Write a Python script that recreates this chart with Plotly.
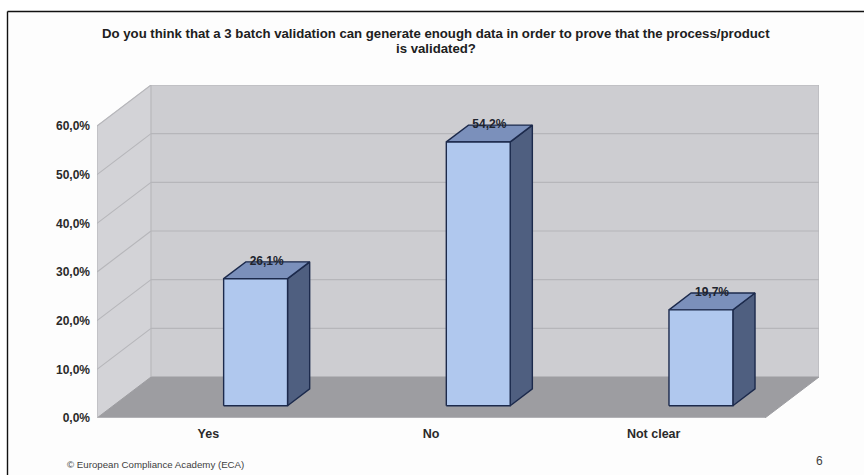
import plotly.graph_objects as go

# Survey results
title_lines = [
    "Do you think that a 3 batch validation can generate enough data in order to prove that the process/product",
    "is validated?",
]
categories = ["Yes", "No", "Not clear"]
shares = [26.1, 54.2, 19.7]
grid_values = [0, 10, 20, 30, 40, 50, 60]
tick_labels = ["0,0%", "10,0%", "20,0%", "30,0%", "40,0%", "50,0%", "60,0%"]
footer_text = "© European Compliance Academy (ECA)"
page_number = "6"

W, H = 864, 475
LEFT, RIGHT, TOP, BOTTOM = 97, 819, 85, 418

# Oblique projection: depth 0 is the front plane, depth 1 the back wall
CAT_PX = 222.67
DEPTH_X = 54 / CAT_PX      # category units per full depth
DEPTH_Y = 41 / 4.867       # percent units per full depth
Y_TOP = 60 + DEPTH_Y
X_MIN, X_MAX = -0.5, 2.5 + DEPTH_X

BAR_SHIFT, BAR_WIDTH = -0.004, 0.287
BAR_D0, BAR_D1 = 0.30, 0.71


def project(x, value, depth):
    return x + DEPTH_X * depth, value + DEPTH_Y * depth


def polygon(corners, fill, line=None, width=1.0):
    pts = [project(*c) for c in corners]
    pts.append(pts[0])
    return go.Scatter(
        x=[p[0] for p in pts], y=[p[1] for p in pts],
        mode="lines", fill="toself", fillcolor=fill,
        line=dict(color=line or fill, width=width),
        hoverinfo="skip", showlegend=False,
    )


def segments(pairs, color, width=1.0):
    xs, ys = [], []
    for a, b in pairs:
        pa, pb = project(*a), project(*b)
        xs += [pa[0], pb[0], None]
        ys += [pa[1], pb[1], None]
    return go.Scatter(x=xs, y=ys, mode="lines", line=dict(color=color, width=width),
                      hoverinfo="skip", showlegend=False)


fig = go.Figure()

# Walls and floor
fig.add_trace(polygon([(-0.5, 0, 1), (2.5, 0, 1), (2.5, 60, 1), (-0.5, 60, 1)], "#cdcdd1"))
fig.add_trace(polygon([(-0.5, 0, 0), (-0.5, 0, 1), (-0.5, 60, 1), (-0.5, 60, 0)], "#d3d3d7"))
fig.add_trace(polygon([(-0.5, 0, 0), (2.5, 0, 0), (2.5, 0, 1), (-0.5, 0, 1)], "#9d9da1"))

# Gridlines across both walls
grid_pairs = []
for g in grid_values[1:]:
    grid_pairs.append(((-0.5, g, 0), (-0.5, g, 1)))
    grid_pairs.append(((-0.5, g, 1), (2.5, g, 1)))
fig.add_trace(segments(grid_pairs, "#b6b6ba", 1.1))
fig.add_trace(segments([
    ((-0.5, 0, 0), (-0.5, 60, 0)),
    ((-0.5, 0, 1), (-0.5, 60, 1)),
    ((2.5, 0, 1), (2.5, 60, 1)),
], "#b4b4b8", 1.1))

# Front edge of the floor with its category separators
fig.add_trace(segments([((-0.5, 0, 0), (2.5, 0, 0))], "#c8c8cc", 1.2))
fig.add_trace(segments([((b, 0, 0), (b, -0.8, 0)) for b in (0.5, 1.5, 2.5)], "#d8d8dc", 1))

# Bars: side, top, then the front face
OUTLINE = "#1c2a4c"
for i, v in enumerate(shares):
    x0 = i + BAR_SHIFT
    x1 = x0 + BAR_WIDTH
    fig.add_trace(polygon([(x1, 0, BAR_D0), (x1, 0, BAR_D1), (x1, v, BAR_D1), (x1, v, BAR_D0)],
                          "#4f5f80", OUTLINE, 1.4))
    fig.add_trace(polygon([(x0, v, BAR_D0), (x1, v, BAR_D0), (x1, v, BAR_D1), (x0, v, BAR_D1)],
                          "#7b90bb", OUTLINE, 1.4))
    fig.add_trace(polygon([(x0, 0, BAR_D0), (x1, 0, BAR_D0), (x1, v, BAR_D0), (x0, v, BAR_D0)],
                          "#b0c8ee", OUTLINE, 1.4))

# Value labels sit on the rear edge of each bar's top
label_x, label_y = [], []
for i, v in enumerate(shares):
    xc = i + BAR_SHIFT + BAR_WIDTH / 2
    label_x.append(project(xc, v, (BAR_D0 + BAR_D1) / 2)[0])
    label_y.append(project(xc, v, BAR_D1)[1])
fig.add_trace(go.Scatter(
    x=label_x, y=label_y, mode="text",
    text=[f"{v:.1f}%".replace(".", ",") for v in shares],
    textposition="middle center",
    textfont=dict(family="Liberation Sans", size=12, color="#20242e", weight="bold"),
    hoverinfo="skip", showlegend=False,
))

title_font = dict(family="Liberation Sans", size=13.2, color="#202020", weight="bold")

fig.update_layout(
    width=W, height=H,
    margin=dict(l=0, r=0, t=0, b=0),
    paper_bgcolor="#ffffff", plot_bgcolor="rgba(0,0,0,0)",
    showlegend=False,
    xaxis=dict(
        domain=[LEFT / W, RIGHT / W], range=[X_MIN, X_MAX], automargin=False,
        tickmode="array", tickvals=[0, 1, 2], ticktext=categories,
        showgrid=False, zeroline=False, showline=False, ticks="", ticklabelstandoff=6,
        tickfont=dict(family="Liberation Sans", size=12.5, color="#2a2a2a", weight="bold"),
    ),
    yaxis=dict(
        domain=[1 - BOTTOM / H, 1 - TOP / H], range=[0, Y_TOP], automargin=False,
        tickmode="array", tickvals=grid_values, ticktext=tick_labels,
        showgrid=False, zeroline=False, showline=False, ticks="", ticklabelstandoff=6,
        tickfont=dict(family="Liberation Sans", size=12, color="#2a2a2a", weight="bold"),
    ),
    shapes=[
        # Slide panel with its top and left rules
        dict(type="rect", xref="paper", yref="paper", x0=7 / W, x1=1, y0=0, y1=1 - 11 / H,
             fillcolor="#fdfdfd", line=dict(width=0), layer="below"),
        dict(type="line", xref="paper", yref="paper", x0=7.5 / W, x1=1, y0=1 - 11.5 / H, y1=1 - 11.5 / H,
             line=dict(color="#111111", width=1.4), layer="above"),
        dict(type="line", xref="paper", yref="paper", x0=7.5 / W, x1=7.5 / W, y0=0, y1=1 - 11.5 / H,
             line=dict(color="#111111", width=1.4), layer="above"),
    ],
    annotations=[
        dict(text=title_lines[0], xref="paper", yref="paper", x=436 / W, y=1 - 33 / H,
             xanchor="center", yanchor="middle", showarrow=False, font=title_font),
        dict(text=title_lines[1], xref="paper", yref="paper", x=436 / W, y=1 - 48 / H,
             xanchor="center", yanchor="middle", showarrow=False, font=title_font),
        dict(text=footer_text, xref="paper", yref="paper", x=65 / W, y=1 - 464 / H,
             xanchor="left", yanchor="middle", showarrow=False,
             font=dict(family="Liberation Sans", size=9.7, color="#404040")),
        dict(text=page_number, xref="paper", yref="paper", x=819 / W, y=1 - 461 / H,
             xanchor="center", yanchor="middle", showarrow=False,
             font=dict(family="Liberation Sans", size=12, color="#404040")),
    ],
)

fig.write_html("out.html", config=dict(displayModeBar=False))
